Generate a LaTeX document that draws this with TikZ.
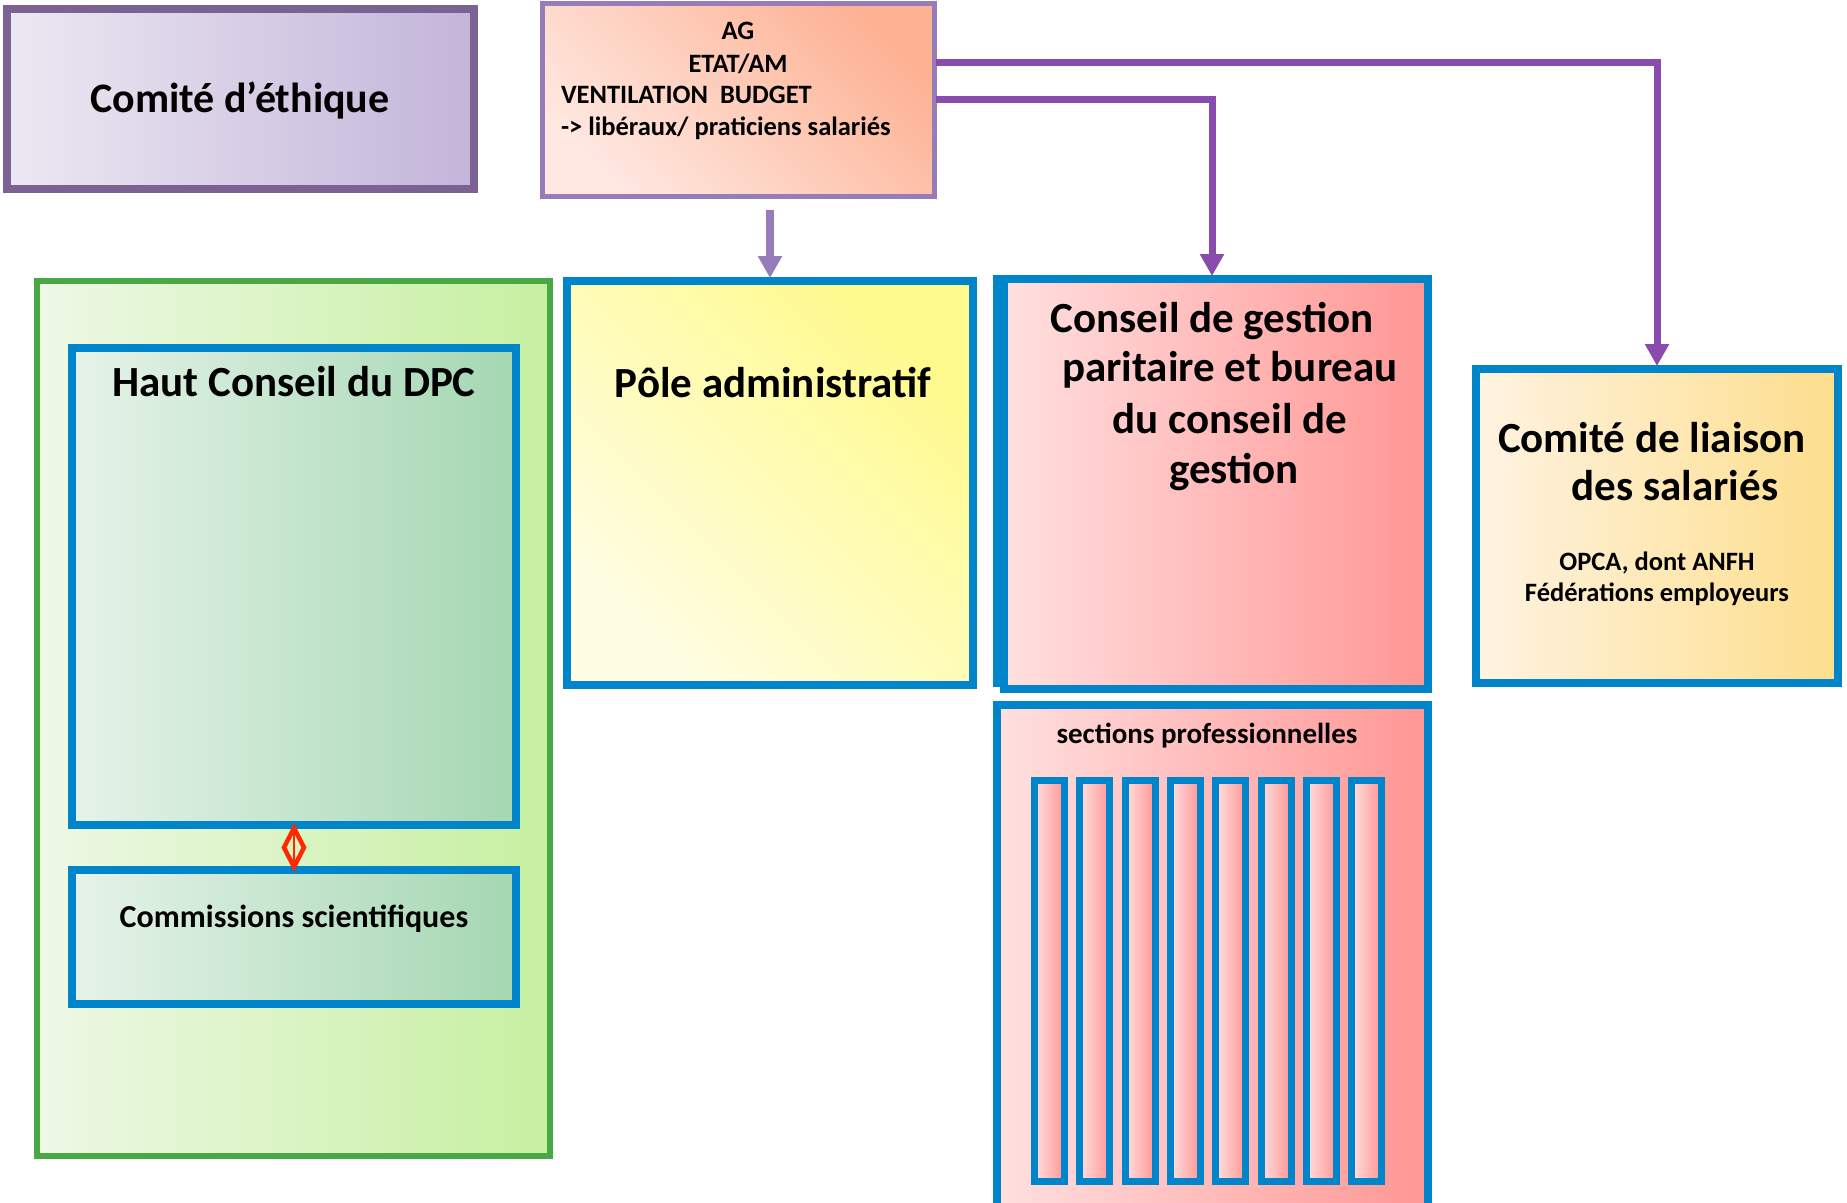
\documentclass[tikz,border=0pt]{standalone}
\usepackage{fontspec}
\setmainfont{Carlito}
\usetikzlibrary{arrows.meta,shapes.geometric}

\definecolor{bleucadre}{RGB}{0,132,202}
\definecolor{violetfleche}{RGB}{138,75,175}
\definecolor{violetclair}{RGB}{150,125,185}
\definecolor{violetethique}{RGB}{123,98,146}
\definecolor{vertcadre}{RGB}{74,167,70}
\definecolor{rougelien}{RGB}{255,40,0}
\definecolor{ethA}{RGB}{236,232,242}
\definecolor{ethB}{RGB}{195,181,218}
\definecolor{agA}{RGB}{255,232,225}
\definecolor{agB}{RGB}{253,178,148}
\definecolor{vertA}{RGB}{238,248,230}
\definecolor{vertB}{RGB}{198,240,160}
\definecolor{hcA}{RGB}{230,243,233}
\definecolor{hcB}{RGB}{164,215,178}
\definecolor{poleA}{RGB}{255,253,228}
\definecolor{poleB}{RGB}{255,250,140}
\definecolor{roseA}{RGB}{255,224,224}
\definecolor{roseB}{RGB}{255,150,148}
\definecolor{liaisonA}{RGB}{255,243,226}
\definecolor{liaisonB}{RGB}{253,222,140}

\begin{document}
\begin{tikzpicture}[x=1pt,y=-1pt]
\tikzstyle{every node}+=[inner sep=0pt, outer sep=0pt, font=\bfseries]
\tikzstyle{cadre}=[draw=bleucadre, line width=8pt]
\tikzstyle{titre}=[font=\fontsize{43}{50}\selectfont\bfseries, anchor=base]
\tikzstyle{moyen}=[font=\fontsize{26.5}{30}\selectfont\bfseries, anchor=base]
\tikzstyle{petit}=[font=\fontsize{26.5}{30}\selectfont\bfseries, anchor=base]
\tikzstyle{fleche}=[draw=violetfleche, line width=7pt, -{Triangle[length=22pt,width=23pt]}, shorten >=3pt]
\useasboundingbox (0,0) rectangle (1847,1202);

% comite d'ethique
\node[draw=violetethique, line width=8pt, left color=ethA, right color=ethB, minimum width=467pt, minimum height=180pt] (ethique) at (240.5,99) {};
\node[font=\fontsize{42}{48}\selectfont\bfseries, anchor=base] (ethiquetxt) at (240,112) {Comité d’éthique};

% AG
\node[draw=violetclair, line width=5pt, left color=agA, right color=agB, shading angle=135, minimum width=392pt, minimum height=193pt] (ag) at (738,99.5) {};
\node[petit] (agl1) at (738,39.5) {AG};
\node[petit] (agl2) at (738,72.5) {ETAT/AM};
\node[petit, anchor=base west] (agl3) at (561,103.5) {VENTILATION~~BUDGET};
\node[petit, anchor=base west] (agl4) at (561,135) {-> libéraux/ praticiens salariés};

% DPC
\node[draw=vertcadre, line width=5.5pt, left color=vertA, right color=vertB, minimum width=513pt, minimum height=875pt] (dpc) at (293.5,718.5) {};
\node[cadre, left color=hcA, right color=hcB, minimum width=444pt, minimum height=477pt] (hcdpc) at (294,586.5) {};
\node[titre] (hcdpctxt) at (294,396) {Haut Conseil du DPC};
\node[cadre, left color=hcA, right color=hcB, minimum width=444pt, minimum height=134pt] (comm) at (294,937) {};
\node[font=\fontsize{32}{38}\selectfont\bfseries, anchor=base] (commtxt) at (294,927) {Commissions scientifiques};
\draw[rougelien, line width=2pt] (hcdpc.south) -- node[diamond, draw=rougelien, line width=4.5pt, minimum width=20pt, minimum height=39pt] (lien) {} (comm.north);

% pole administratif
\node[cadre, left color=poleA, right color=poleB, shading angle=135, minimum width=406pt, minimum height=404pt] (pole) at (770,483) {};
\node[titre] (poletxt) at (773,397) {Pôle administratif};

% conseil de gestion
\node[cadre, minimum width=424pt, minimum height=404pt] (ombre) at (1209,481) {};
\node[cadre, left color=roseA, right color=roseB, minimum width=424pt, minimum height=410pt] (cgp) at (1216,484) {};
\foreach \ligne/\xc/\yb [count=\k] in {Conseil de gestion/1212/332, paritaire et bureau/1230/381, du conseil de/1230/433, gestion/1234/483}
  \node[titre] (cgptxt\k) at (\xc,\yb) {\ligne};

% sections professionnelles
\node[cadre, left color=roseA, right color=roseB, minimum width=431pt, minimum height=510pt] (sections) at (1212.5,960) {};
\node[moyen, font=\fontsize{29}{34}\selectfont\bfseries] (sectionstxt) at (1207,743) {sections professionnelles};
\foreach \i in {0,...,7}
  \node[cadre, line width=7pt, left color=roseA, right color=roseB, minimum width=30pt, minimum height=401pt] (barre\i) at ({1049.5+45.3*\i},980.5) {};

% comite de liaison
\node[cadre, left color=liaisonA, right color=liaisonB, minimum width=362pt, minimum height=314pt] (liaison) at (1657,526) {};
\node[titre] (liaisontxt1) at (1652,452) {Comité de liaison};
\node[titre] (liaisontxt2) at (1675,500) {des salariés};
\node[moyen] (opca1) at (1657,570) {OPCA, dont ANFH};
\node[moyen] (opca2) at (1657,601) {Fédérations employeurs};

% fleches
\draw[fleche, draw=violetclair, line width=8pt, shorten <=14pt] (ag.south -| pole.north) -- (pole.north);
\draw[fleche] ([xshift=2pt]ag.east) -| ([xshift=-4pt]cgp.north);
\draw[fleche] ([xshift=2pt,yshift=37.5pt]ag.east) -| (liaison.north);
\end{tikzpicture}
\end{document}
